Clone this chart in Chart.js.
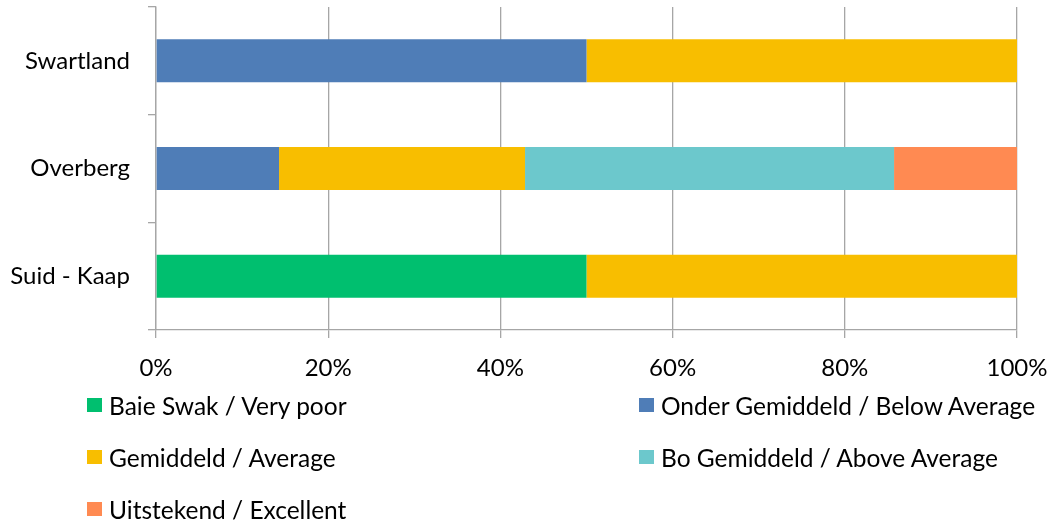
<!DOCTYPE html>
<html>
<head>
<meta charset="utf-8">
<script src="https://cdn.jsdelivr.net/npm/chart.js@4"></script>
<style>
	html, body { margin: 0; padding: 0; background: #fff; }
	#wrap { position: relative; width: 1051px; height: 527px; font-family: Lato, sans-serif; }
	#myChart { position: absolute; left: 0; top: 0; }
	.lg { position: absolute; display: flex; align-items: center; font-size: 24.5px; color: #000; white-space: nowrap; }
	.lg span.box { display: inline-block; width: 15px; height: 14px; margin-right: 7px; }
</style>
</head>
<body>
<div id="wrap">
	<canvas id="myChart" width="1051" height="527"></canvas>
	<div id="legend"></div>
</div>
<script>
"use strict";

const categories = ['Swartland', 'Overberg', 'Suid - Kaap'];
const seriesNames = [
	'Baie Swak / Very poor',
	'Onder Gemiddeld / Below Average',
	'Gemiddeld / Average',
	'Bo Gemiddeld / Above Average',
	'Uitstekend / Excellent'
];
// percent per category (Swartland, Overberg, Suid - Kaap)
const baieSwak = [0, 0, 50];
const onderGemiddeld = [50, 14.29, 0];
const gemiddeld = [50, 28.57, 50];
const boGemiddeld = [0, 42.86, 0];
const uitstekend = [0, 14.29, 0];
const xTicks = [0, 20, 40, 60, 80, 100];

const colors = ['#00BF6F', '#4F7DB7', '#F8BE00', '#6CC8CC', '#FF8A52'];
const seriesValues = [baieSwak, onderGemiddeld, gemiddeld, boGemiddeld, uitstekend];

const gridColor = '#A6A6A6';
const fontSpec = { family: 'Lato, sans-serif', size: 24 };

const data = {
	labels: categories,
	datasets: seriesNames.map((name, i) => ({
		label: name,
		data: seriesValues[i],
		backgroundColor: colors[i],
		borderWidth: 0,
		categoryPercentage: 1,
		barPercentage: 0.4
	}))
};

const config = {
	type: 'bar',
	data: data,
	options: {
		indexAxis: 'y',
		responsive: false,
		animation: false,
		layout: { padding: { left: 0, right: 34, top: 7, bottom: 137 } },
		plugins: {
			legend: { display: false },
			tooltip: { enabled: false }
		},
		scales: {
			x: {
				stacked: true,
				min: 0,
				max: 100,
				afterBuildTicks: (scale) => { scale.ticks = xTicks.map(v => ({ value: v })); },
				ticks: {
					callback: (v) => v + '%',
					color: '#000',
					font: fontSpec,
					padding: 16
				},
				grid: { color: gridColor, lineWidth: 1.3, tickLength: 8, drawOnChartArea: true },
				border: { color: gridColor, width: 1.3 },
				afterFit: (scale) => {
					scale.height = 60;
					scale.paddingLeft = 0;
					scale.paddingRight = 0;
				}
			},
			y: {
				stacked: true,
				ticks: { color: '#000', font: fontSpec, padding: 18 },
				grid: { color: gridColor, lineWidth: 1.3, tickLength: 8, offset: true, drawOnChartArea: false },
				border: { color: gridColor, width: 1.3 },
				afterFit: (scale) => {
					scale.width = 156;
					scale.paddingTop = 0;
					scale.paddingBottom = 0;
				}
			}
		}
	}
};

const myChart = new Chart(document.getElementById('myChart'), config);

// legend in two columns like the original
const legendPos = [
	{ x: 87, y: 405 }, { x: 639, y: 405 },
	{ x: 87, y: 457 }, { x: 639, y: 457 },
	{ x: 87, y: 509 }
];
const legendEl = document.getElementById('legend');
seriesNames.forEach((name, i) => {
	const item = document.createElement('div');
	item.className = 'lg';
	item.style.left = legendPos[i].x + 'px';
	item.style.top = (legendPos[i].y - 15) + 'px';
	item.style.height = '30px';
	item.innerHTML = '<span class="box" style="background:' + colors[i] + '"></span><span>' + name + '</span>';
	legendEl.appendChild(item);
});
</script>
</body>
</html>
